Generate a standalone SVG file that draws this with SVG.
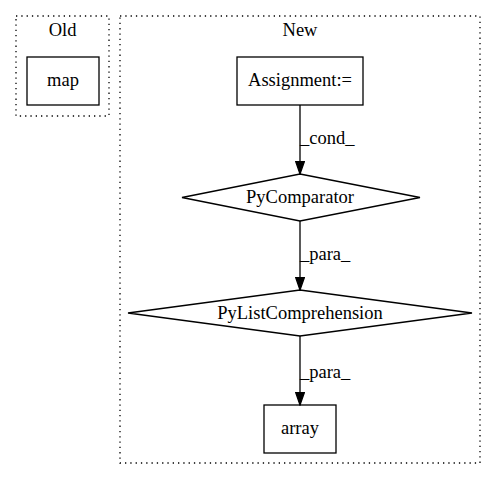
<svg xmlns="http://www.w3.org/2000/svg" width="496" height="480" viewBox="0 0 496 480">
<style>
text{font-family:'Liberation Serif','Times New Roman',serif;font-size:18.5px;text-anchor:middle;fill:#000}
.cl{fill:none;stroke:#000;stroke-dasharray:1.3,4;stroke-width:1.3}
.n{fill:#fff;stroke:#000;stroke-width:1.3}
.e{fill:none;stroke:#000;stroke-width:1.3}
text.lbl{text-anchor:start}
</style>
<defs>
<marker id="ah" markerWidth="14" markerHeight="10" refX="13.3" refY="4.7" orient="auto" markerUnits="userSpaceOnUse"><path d="M0,0 L13.3,4.7 L0,9.3 Z" fill="#000" stroke="#000" stroke-width="1.3"/></marker>
</defs>
<rect width="496" height="480" fill="#fff"/>
<g id="cluster_old">
<rect class="cl" x="16" y="16" width="93" height="100"/>
<text x="62.5" y="36">Old</text>
</g>
<g id="cluster_new">
<rect class="cl" x="120" y="16" width="360" height="447"/>
<text x="300" y="36">New</text>
</g>
<g id="map">
<rect class="n" x="27" y="57" width="72" height="48"/>
<text x="63" y="86">map</text>
</g>
<g id="assignment">
<rect class="n" x="237" y="57" width="126" height="48"/>
<text x="300" y="86">Assignment:=</text>
</g>
<g id="pycomparator">
<polygon class="n" points="300,174 420,197.5 300,221 182,197.5"/>
<text x="300" y="203">PyComparator</text>
</g>
<g id="pylistcomprehension">
<polygon class="n" points="300,290 472,313 300,336 128,313"/>
<text x="300" y="319">PyListComprehension</text>
</g>
<g id="array">
<rect class="n" x="264" y="405" width="72" height="48"/>
<text x="300" y="434">array</text>
</g>
<g id="connectors">
<line class="e" x1="300" y1="105" x2="300" y2="174" marker-end="url(#ah)"/>
<text class="lbl" x="300" y="144">_cond_</text>
<line class="e" x1="300" y1="221" x2="300" y2="290" marker-end="url(#ah)"/>
<text class="lbl" x="300" y="260">_para_</text>
<line class="e" x1="300" y1="336" x2="300" y2="405" marker-end="url(#ah)"/>
<text class="lbl" x="300" y="378">_para_</text>
</g>
</svg>
